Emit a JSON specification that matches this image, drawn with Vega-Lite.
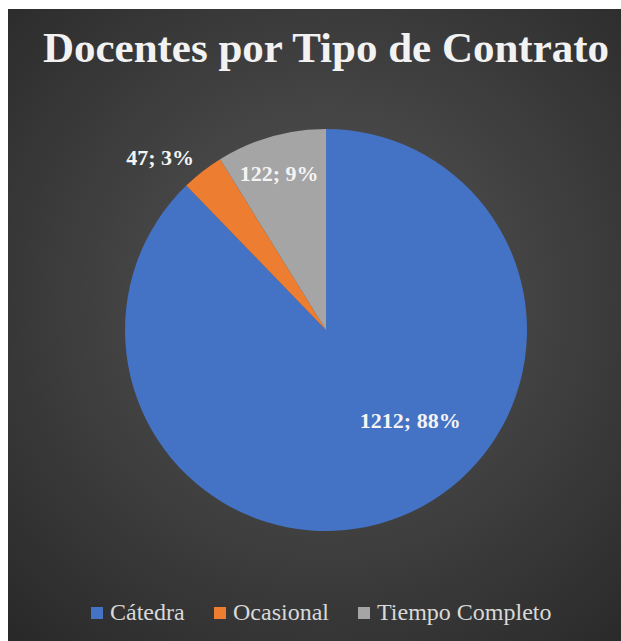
{
  "$schema": "https://vega.github.io/schema/vega-lite/v6.json",
  "autosize": "none",
  "width": 636,
  "height": 642,
  "padding": {"left": 8, "top": 9, "right": 0, "bottom": 0},
  "background": "white",
  "title": {
    "text": "Docentes por Tipo de Contrato",
    "font": "Liberation Serif",
    "fontSize": 43,
    "fontWeight": "bold",
    "color": "#f2f2f2",
    "anchor": "middle",
    "baseline": "alphabetic",
    "offset": -52,
    "dy": 44,
    "frame": "group"
  },
  "config": {"view": {"stroke": null}},
  "layer": [
    {
      "data": {"values": [{"fondo": "gradiente"}]},
      "mark": {
        "type": "rect",
        "fill": {
          "gradient": "radial",
          "x1": 0.5, "y1": 0.45, "r1": 0,
          "x2": 0.5, "y2": 0.45, "r2": 0.75,
          "stops": [
            {"offset": 0, "color": "#575757"},
            {"offset": 1, "color": "#272727"}
          ]
        }
      },
      "encoding": {}
    },
    {
      "data": {
        "values": [
          {"tipo": "Cátedra", "docentes": 1212, "etiqueta": "1212; 88%"},
          {"tipo": "Ocasional", "docentes": 47, "etiqueta": "47; 3%"},
          {"tipo": "Tiempo Completo", "docentes": 122, "etiqueta": "122; 9%"}
        ]
      },
      "encoding": {
        "theta": {"field": "docentes", "type": "quantitative", "stack": true},
        "order": {"field": "tipo", "type": "nominal", "sort": "ascending"},
        "color": {
          "field": "tipo",
          "type": "nominal",
          "sort": ["Cátedra", "Ocasional", "Tiempo Completo"],
          "scale": {"domain": ["Cátedra", "Ocasional", "Tiempo Completo"], "range": ["#4472c4", "#ed7d31", "#a5a5a5"]},
          "legend": {
            "title": null,
            "orient": "none",
            "direction": "horizontal",
            "legendX": 77,
            "legendY": 592,
            "padding": 0,
            "symbolType": "square",
            "symbolSize": 144,
            "symbolStrokeWidth": 0,
            "labelFont": "Liberation Serif",
            "labelFontSize": 24,
            "labelColor": "#d9d9d9",
            "labelOffset": 1,
            "labelLimit": 400,
            "columnPadding": 23
          }
        }
      },
      "layer": [
        {"mark": {"type": "arc", "outerRadius": 201, "stroke": null}},
        {
          "mark": {"type": "text", "radius": 110, "dx": 43, "dy": -11, "font": "Liberation Serif", "fontWeight": "bold", "fontSize": 22},
          "encoding": {
            "fill": {"value": "#f4f4f4"},
            "text": {"condition": {"test": "datum.tipo === 'Cátedra'", "field": "etiqueta"}, "value": ""}
          }
        },
        {
          "mark": {"type": "text", "radius": 239, "dx": -19, "dy": 17, "font": "Liberation Serif", "fontWeight": "bold", "fontSize": 22},
          "encoding": {
            "fill": {"value": "#f4f4f4"},
            "text": {"condition": {"test": "datum.tipo === 'Ocasional'", "field": "etiqueta"}, "value": ""}
          }
        },
        {
          "mark": {"type": "text", "radius": 160, "dx": -3, "dy": -2, "font": "Liberation Serif", "fontWeight": "bold", "fontSize": 22},
          "encoding": {
            "fill": {"value": "#f4f4f4"},
            "text": {"condition": {"test": "datum.tipo === 'Tiempo Completo'", "field": "etiqueta"}, "value": ""}
          }
        }
      ]
    }
  ]
}
